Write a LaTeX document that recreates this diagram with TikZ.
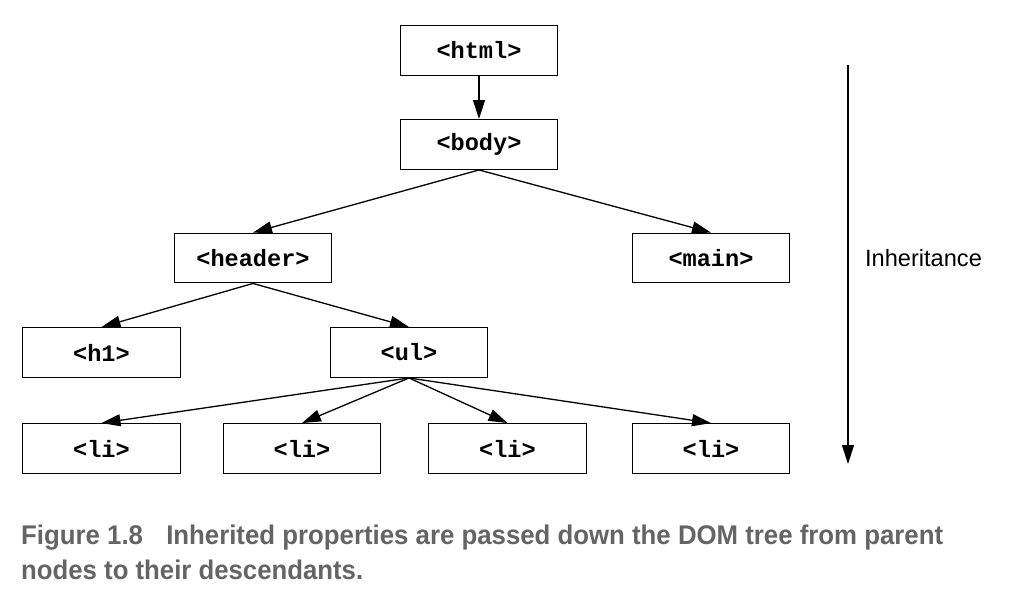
\documentclass[tikz,border=0pt]{standalone}
\usepackage{fontspec}
\usepackage{graphicx}
\setmainfont{Liberation Sans}
\newfontfamily\codefont{Liberation Mono}
\newfontfamily\capfont{Liberation Sans}
\usetikzlibrary{arrows.meta}
\definecolor{capgray}{RGB}{100,100,100}
\begin{document}
\begin{tikzpicture}[x=1pt,y=-1pt,
  tag/.style={draw, line width=1.4pt, minimum width=157.5pt, minimum height=49.5pt, inner sep=0pt,
    font=\codefont\bfseries\fontsize{23.6}{28}\selectfont},
  link/.style={line width=1.3pt, -{Triangle[length=19pt,width=12pt]}},
  lbl/.style={font=\fontsize{23.6}{28}\selectfont, inner sep=0pt},
  figcap/.style={font=\capfont\bfseries\fontsize{27}{32}\selectfont, text=capgray, inner sep=0pt, anchor=base west}]
\useasboundingbox (0,0) rectangle (1010,591);
\node[tag] (html) at (479,50.5) {<html>};
\node[tag] (body) at (479,144.5) {<body>};
\node[tag] (header) at (253,258) {<header>};
\node[tag] (main) at (711,258) {<main>};
\node[tag] (h1) at (101.5,352.5) {<h1>};
\node[tag] (ul) at (409,352.5) {<ul>};
\node[tag] (li1) at (101.5,448.5) {<li>};
\node[tag] (li2) at (302,448.5) {<li>};
\node[tag] (li3) at (507.5,448.5) {<li>};
\node[tag] (li4) at (711,448.5) {<li>};
\draw[link] (html.south) -- (body.north);
\draw[link] (body.south) -- (header.north);
\draw[link] (body.south) -- (main.north);
\draw[link] (header.south) -- (h1.north);
\draw[link] (header.south) -- (ul.north);
\draw[link] (ul.south) -- (li1.north);
\draw[link] (ul.south) -- (li2.north);
\draw[link] (ul.south) -- (li3.north);
\draw[link] (ul.south) -- (li4.north);
\coordinate (itop) at (848,65);
\coordinate (ibot) at (848,464);
\draw[link] (itop) -- (ibot);
\node[lbl] (inh) at (923.5,258) {Inheritance};
\node[figcap] (cap1) at (21,544) {\resizebox{922pt}{\height}{Figure 1.8\hspace{0.9em}Inherited properties are passed down the DOM tree from parent}};
\node[figcap] (cap2) at (21,579) {\resizebox{342pt}{\height}{nodes to their descendants.}};
\end{tikzpicture}
\end{document}
